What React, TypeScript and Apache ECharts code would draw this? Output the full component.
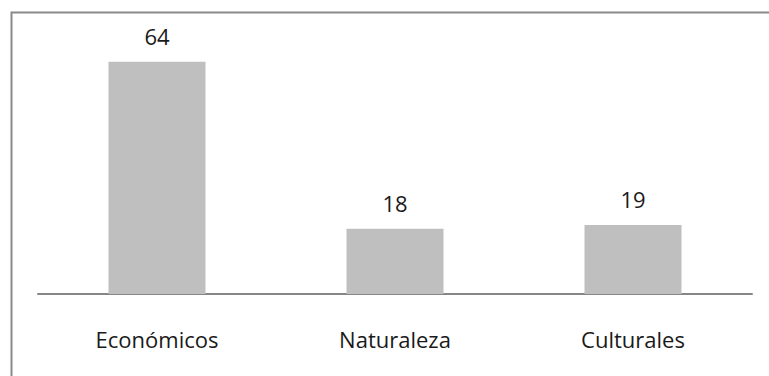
import React, { useEffect, useRef } from "react";
import * as echarts from "echarts";

const categories = ["Económicos", "Naturaleza", "Culturales"];
const values = [64, 18, 19];

export default function App() {
  const ref = useRef<HTMLDivElement>(null);
  useEffect(() => {
    document.body.style.margin = "0";
    const chart = echarts.init(ref.current!, null, { renderer: "svg" });
    chart.setOption({
      animation: false,
      backgroundColor: "#ffffff",
      graphic: [
        {
          type: "rect",
          left: 9,
          top: 10,
          shape: { width: 800, height: 400 },
          style: { fill: "none", stroke: "#8a8a8a", lineWidth: 2 },
          silent: true,
        },
      ],
      grid: { left: 38, right: 17, top: 40, bottom: 82, containLabel: false },
      xAxis: {
        type: "category",
        data: categories,
        axisLine: { show: true, lineStyle: { color: "#868686", width: 2 } },
        axisTick: { show: false },
        axisLabel: {
          margin: 34,
          fontFamily: "Open Sans",
          fontSize: 22,
          color: "#1a1a1a",
        },
      },
      yAxis: {
        type: "value",
        min: 0,
        max: 70,
        interval: 10,
        show: false,
        splitLine: { show: false },
      },
      series: [
        {
          type: "bar",
          data: values,
          barWidth: 97,
          itemStyle: { color: "#bfbfbf" },
          label: {
            show: true,
            position: "top",
            distance: 15,
            fontFamily: "Open Sans",
            fontSize: 22,
            color: "#1a1a1a",
          },
        },
      ],
    });
    return () => chart.dispose();
  }, []);
  return <div ref={ref} style={{ width: 769, height: 376 }} />;
}
